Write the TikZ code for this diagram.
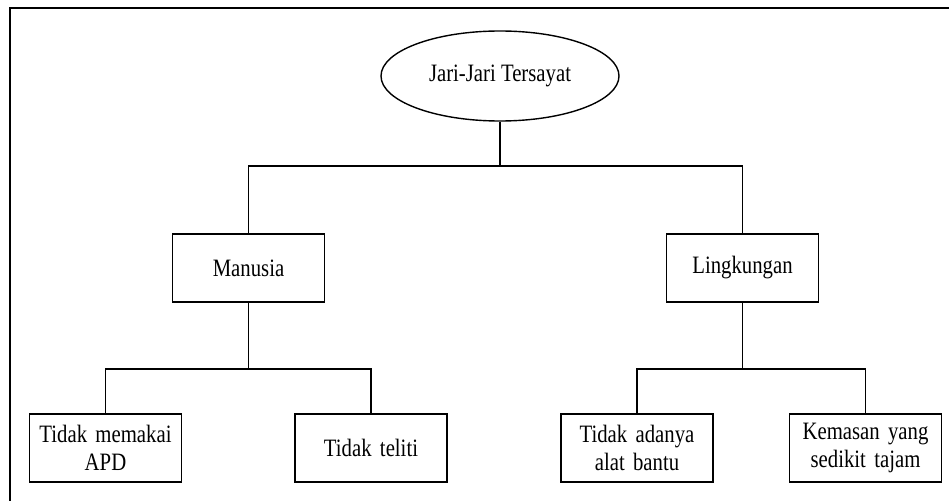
\documentclass[tikz,border=0pt]{standalone}
\usepackage{fontspec}
\setmainfont{Liberation Serif}[FakeStretch=0.83]
\usetikzlibrary{shapes.geometric}
\begin{document}
\begin{tikzpicture}[x=1pt,y=-1pt,
  every node/.style={font=\fontsize{25}{28.5}\selectfont},
  causebox/.style={draw, line width=1.8pt, rectangle, minimum width=152pt,
    minimum height=68pt, inner sep=0pt, align=center, text width=150pt},
  rootshape/.style={draw, line width=1.4pt, ellipse, minimum width=238pt,
    minimum height=90pt, inner sep=0pt},
  link/.style={line width=1.4pt}]
  \useasboundingbox (0,0) rectangle (949,500);
  % outer frame (right and bottom edges run off the page)
  \draw[line width=1.4pt] (960,510) -- (10,510) -- (10,8) -- (960,8);

  % root and branches
  \node[rootshape] (root) at (500,76) {Jari-Jari Tersayat};
  \node[causebox] (man) at (248.5,268) {Manusia};
  \node[causebox] (lin) at (742.5,268) {Lingkungan};

  \node[causebox] (apd) at (105.5,448) {Tidak memakai\\APD};
  \node[causebox] (tel) at (371,448) {Tidak teliti};
  \node[causebox] (alat) at (637,448) {Tidak adanya\\alat bantu};
  \node[causebox] (kem) at (865.5,448) {Kemasan yang\\sedikit tajam};

  % junction points on the horizontal bars
  \coordinate (j0) at (root.south |- 0,166);
  \coordinate (j1) at (man.south |- 0,369);
  \coordinate (j2) at (lin.south |- 0,369);

  \draw[link] (root.south) -- (j0);
  \draw[link] (man.north) |- (j0) -| (lin.north);

  \draw[link] (man.south) -- (j1);
  \draw[link] (apd.north) |- (j1) -| (tel.north);

  \draw[link] (lin.south) -- (j2);
  \draw[link] (alat.north) |- (j2) -| (kem.north);
\end{tikzpicture}
\end{document}
